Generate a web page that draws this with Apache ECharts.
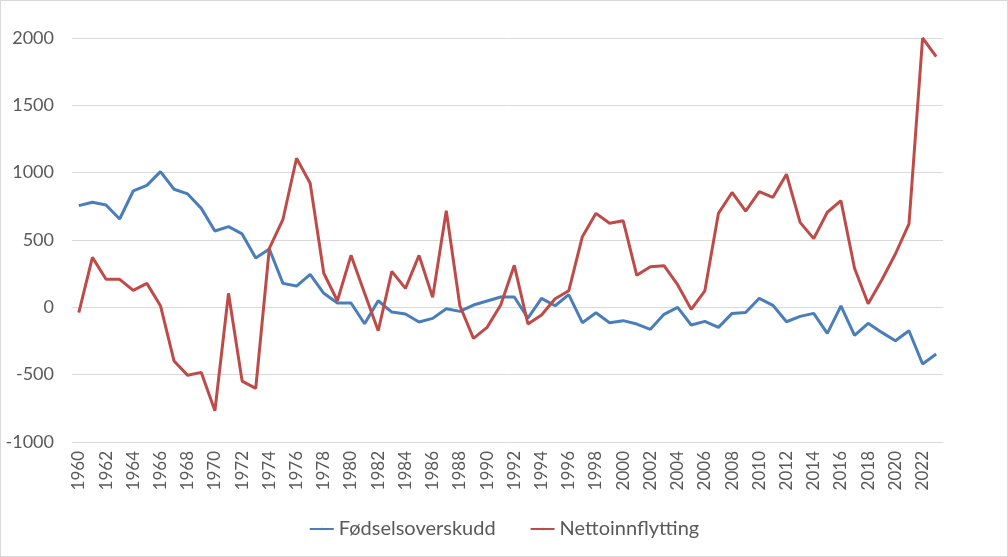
<!DOCTYPE html>
<html>
<head>
<meta charset="utf-8">
<script src="https://cdn.jsdelivr.net/npm/echarts@6/dist/echarts.min.js"></script>
<style>
html,body{margin:0;padding:0;background:#fff;}
#c{width:1006px;height:555px;border:1px solid #d9d9d9;}
</style>
</head>
<body>
<div id="c"></div>
<script>
const years = [];
for (let y = 1960; y <= 2023; y++) years.push(String(y));

const fodselsoverskudd = [
  755, 780, 760, 656, 864, 906, 1008, 877, 842, 735,
  567, 599, 545, 366, 433, 178, 158, 245, 104, 32,
  32, -122, 49, -35, -50, -109, -82, -10, -30, 17,
  47, 77, 77, -80, 67, 12, 94, -114, -40, -114,
  -99, -124, -163, -52, 0, -131, -104, -149, -45, -38,
  67, 15, -107, -67, -45, -193, 10, -208, -119, -186,
  -248, -174, -421, -347
];

const nettoinnflytting = [
  -40, 371, 208, 208, 126, 178, 12, -399, -505, -483,
  -768, 104, -548, -602, 438, 654, 1107, 921, 253, 49,
  386, 104, -174, 267, 141, 386, 74, 718, 12, -230,
  -149, 17, 312, -124, -57, 64, 123, 525, 698, 624,
  643, 238, 302, 309, 168, -15, 123, 698, 853, 715,
  859, 817, 988, 631, 510, 706, 792, 290, 27, 203,
  396, 619, 2000, 1862
];

const yTicks = { min: -1000, max: 2000, interval: 500 };

const chart = echarts.init(document.getElementById('c'));
const font = 'Lato, "Liberation Sans", sans-serif';
chart.setOption({
  animation: false,
  textStyle: { fontFamily: font },
  grid: { left: 71, right: 64, top: 37, bottom: 114, containLabel: false },
  legend: {
    bottom: 12,
    left: 'center',
    itemWidth: 24,
    itemHeight: 3,
    itemGap: 34,
    textStyle: { fontSize: 20, color: '#595959', fontFamily: font },
    data: ['Fødselsoverskudd', 'Nettoinnflytting']
  },
  xAxis: {
    type: 'category',
    data: years,
    boundaryGap: true,
    axisLine: { show: true, lineStyle: { color: '#d9d9d9', width: 1 } },
    axisTick: { show: false },
    axisLabel: { interval: 1, rotate: 90, fontSize: 17, color: '#595959', margin: 9, fontFamily: font }
  },
  yAxis: {
    type: 'value',
    min: yTicks.min,
    max: yTicks.max,
    interval: yTicks.interval,
    axisLine: { show: false },
    axisTick: { show: false },
    splitLine: { lineStyle: { color: '#d9d9d9', width: 1 } },
    axisLabel: { fontSize: 18, color: '#595959', margin: 18, fontFamily: font, formatter: v => String(v) }
  },
  series: [
    {
      name: 'Fødselsoverskudd',
      type: 'line',
      data: fodselsoverskudd,
      symbol: 'none',
      lineStyle: { color: '#4a7ebb', width: 3 },
      itemStyle: { color: '#4a7ebb' }
    },
    {
      name: 'Nettoinnflytting',
      type: 'line',
      data: nettoinnflytting,
      symbol: 'none',
      lineStyle: { color: '#be4b48', width: 3 },
      itemStyle: { color: '#be4b48' }
    }
  ]
});
</script>
</body>
</html>
